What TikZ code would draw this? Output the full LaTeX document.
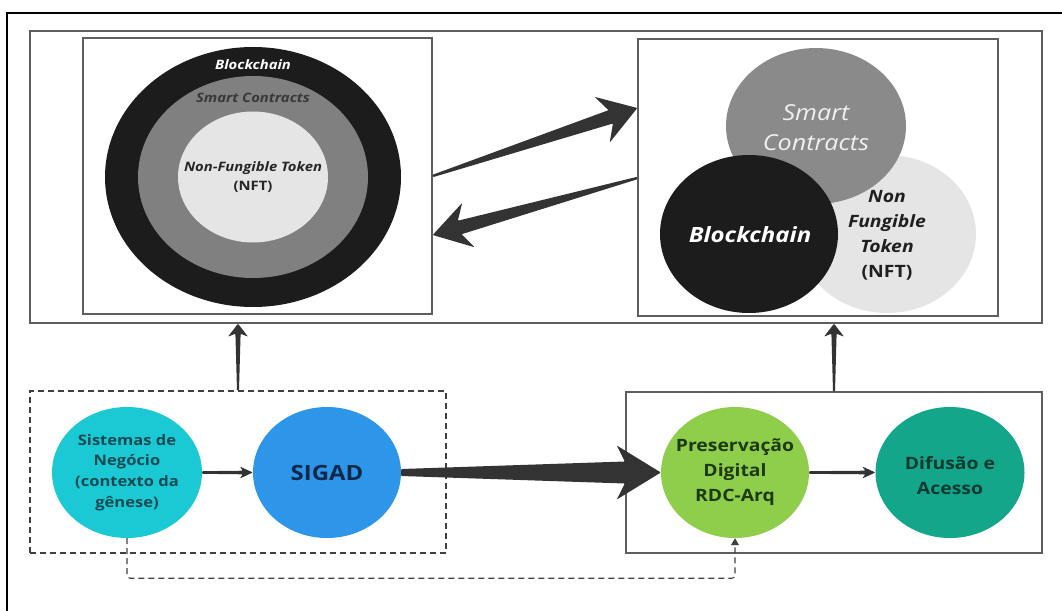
\documentclass[tikz,border=0pt]{standalone}
\usepackage{fontspec}
\usepackage{graphicx}
\setmainfont{Open Sans}
\usetikzlibrary{calc,shapes.geometric,arrows.meta}
\definecolor{arrowc}{HTML}{333333}
\definecolor{boxc}{HTML}{5E5E5E}
\definecolor{bcblack}{HTML}{1C1C1C}
\definecolor{scgray}{HTML}{8A8A8A}
\definecolor{nftgray}{HTML}{E5E5E5}
\definecolor{midgray}{HTML}{808080}
\definecolor{siscol}{HTML}{1BC9D4}
\definecolor{sigadcol}{HTML}{2E96E8}
\definecolor{prescol}{HTML}{8FCE4B}
\definecolor{difcol}{HTML}{13A68A}
\definecolor{sistxt}{HTML}{0E4A52}
\definecolor{sigadtxt}{HTML}{10294A}
\definecolor{prestxt}{HTML}{1D3A10}
\definecolor{diftxt}{HTML}{0B3A30}
\newcommand{\sx}[1]{\scalebox{1.14}[1]{#1}}
\tikzset{
  boxnode/.style={draw=boxc, line width=1.4pt, inner sep=0pt},
  dashbox/.style={draw=black!75, line width=1.1pt, dash pattern=on 6pt off 4pt, inner sep=0pt},
  blob/.style={ellipse, inner sep=0pt},
  dashline/.style={draw=black!75, line width=1.1pt, dash pattern=on 6pt off 4pt},
  lbl/.style={inner sep=0pt, align=center},
}
% tail, tip, tail half, neck half, neck back, barb back, barb half
\newcommand{\taperarrow}[7]{%
  \coordinate (tpn) at ($(#2)!#5!(#1)$);
  \coordinate (tpb) at ($(#2)!#6!(#1)$);
  \fill[arrowc, rounded corners=0.8pt] ($(#1)!#3!90:(#2)$) -- ($(tpn)!#4!90:(#2)$) -- ($(tpb)!#7!90:(#2)$)
    -- (#2) -- ($(tpb)!#7!-90:(#2)$) -- ($(tpn)!#4!-90:(#2)$) -- ($(#1)!#3!-90:(#2)$) -- cycle;
}
\begin{document}
\begin{tikzpicture}[x=1pt,y=-1pt]
\useasboundingbox (0,0) rectangle (1062,610);
% outer frame
\draw[line width=1.8pt, black] (7,630) -- (7,13) -- (1080,13);
% boxes
\node[boxnode, minimum width=1012pt, minimum height=292pt] (topbox) at (536,177) {};
\node[boxnode, minimum width=349pt, minimum height=276pt] (leftbox) at (257.5,176) {};
\node[boxnode, minimum width=360pt, minimum height=277pt] (rightbox) at (818,177.5) {};
\node[dashbox, minimum width=416pt, minimum height=162pt] (dbox) at (238,472) {};
\node[boxnode, minimum width=416pt, minimum height=161pt] (sbox) at (834,472.5) {};
% left nested ellipses
\node[blob, fill=bcblack, minimum width=296pt, minimum height=260pt] (bcout) at (253,177) {};
\node[blob, fill=midgray, minimum width=230pt, minimum height=202pt] (scmid) at (253,177) {};
\node[blob, fill=nftgray, minimum width=150pt, minimum height=131pt] (nftin) at (253,177) {};
\node[lbl, text=black!85, font=\fontsize{13}{19}\selectfont\bfseries] (nftintxt) at (nftin)
      {\sx{\itshape Non-Fungible Token}\\\sx{(NFT)}};
\node[lbl, font=\fontsize{13}{15}\selectfont\bfseries\itshape, text=white] (bclabel) at (253,65) {\sx{Blockchain}};
\node[lbl, font=\fontsize{13}{15}\selectfont\bfseries\itshape, text=black!78] (sclabel) at (253,98) {\sx{Smart Contracts}};
% right venn
\node[blob, fill=nftgray, minimum width=178pt, minimum height=158pt] (nftc) at (887,234) {};
\node[blob, fill=scgray, minimum width=180pt, minimum height=156pt] (scc) at (816,126) {};
\node[blob, fill=bcblack, minimum width=178pt, minimum height=158pt] (bcc) at (749,234) {};
\node[lbl, text=white, font=\fontsize{21}{25}\selectfont\bfseries\itshape] (bctxt) at (750,235) {\sx{Blockchain}};
\node[lbl, text=white!94!black, font=\fontsize{22}{30}\selectfont\itshape] (sctxt) at (816,128) {\sx{Smart}\\\sx{Contracts}};
\node[lbl, text=black!88, font=\fontsize{17}{25}\selectfont\bfseries] (nfttxt) at (887,235)
   {\sx{\itshape Non}\\\sx{\itshape Fungible}\\\sx{\itshape Token}\\\sx{(NFT)}};
% bottom circles
\node[blob, fill=siscol, minimum width=150pt, minimum height=131pt] (sis) at (127,472.5) {};
\node[blob, fill=sigadcol, minimum width=148pt, minimum height=131pt] (sigad) at (327,472.5) {};
\node[blob, fill=prescol, minimum width=148pt, minimum height=131pt] (pres) at (735,472.5) {};
\node[blob, fill=difcol, minimum width=149pt, minimum height=131pt] (dif) at (950,472.5) {};
\node[lbl, text=sistxt, font=\fontsize{14.5}{20.7}\selectfont\bfseries] (sistxtn) at (sis)
      {\sx{Sistemas de}\\\sx{Negócio}\\\sx{(contexto da}\\\sx{gênese)}};
\node[lbl, text=sigadtxt, font=\fontsize{21}{24}\selectfont\bfseries] (sigadtxtn) at (sigad) {\sx{SIGAD}};
\node[lbl, text=prestxt, font=\fontsize{17}{25}\selectfont\bfseries] (prestxtn) at (pres)
      {\sx{Preservação}\\\sx{Digital}\\\sx{RDC-Arq}};
\node[lbl, text=diftxt, font=\fontsize{17}{25}\selectfont\bfseries] (diftxtn) at ([yshift=-3pt]dif.center)
      {\sx{Difusão e}\\\sx{Acesso}};
% connectors between top boxes
\coordinate (upTip) at ($(rightbox.west)+(0,-69.5)$);
\coordinate (loTail) at ($(rightbox.west)+(0,0.5)$);
\coordinate (loTip) at ($(leftbox.east)+(0,59)$);
\taperarrow{leftbox.east}{upTip}{1.2pt}{7pt}{28pt}{37pt}{24pt}
\taperarrow{loTail}{loTip}{1.2pt}{7pt}{28pt}{37pt}{23pt}
% up arrows
\coordinate (upLtip) at (topbox.south -| dbox.north);
\coordinate (upRtip) at (topbox.south -| sbox.north);
\taperarrow{dbox.north}{upLtip}{1pt}{2.6pt}{10pt}{13pt}{10pt}
\taperarrow{sbox.north}{upRtip}{1pt}{2.6pt}{10pt}{13pt}{10pt}
% bottom arrows
\taperarrow{sis.east}{sigad.west}{1.3pt}{1.8pt}{10pt}{13pt}{6pt}
\taperarrow{pres.east}{dif.west}{1.3pt}{1.8pt}{10pt}{13pt}{6pt}
\taperarrow{sigad.east}{pres.west}{3.5pt}{11pt}{36pt}{44pt}{27pt}
% dashed feedback
\draw[dashline, rounded corners=3pt, -{Triangle[length=7pt,width=8pt]}] (sis.south) -- ++(0,40) -| (pres.south);
\end{tikzpicture}
\end{document}
